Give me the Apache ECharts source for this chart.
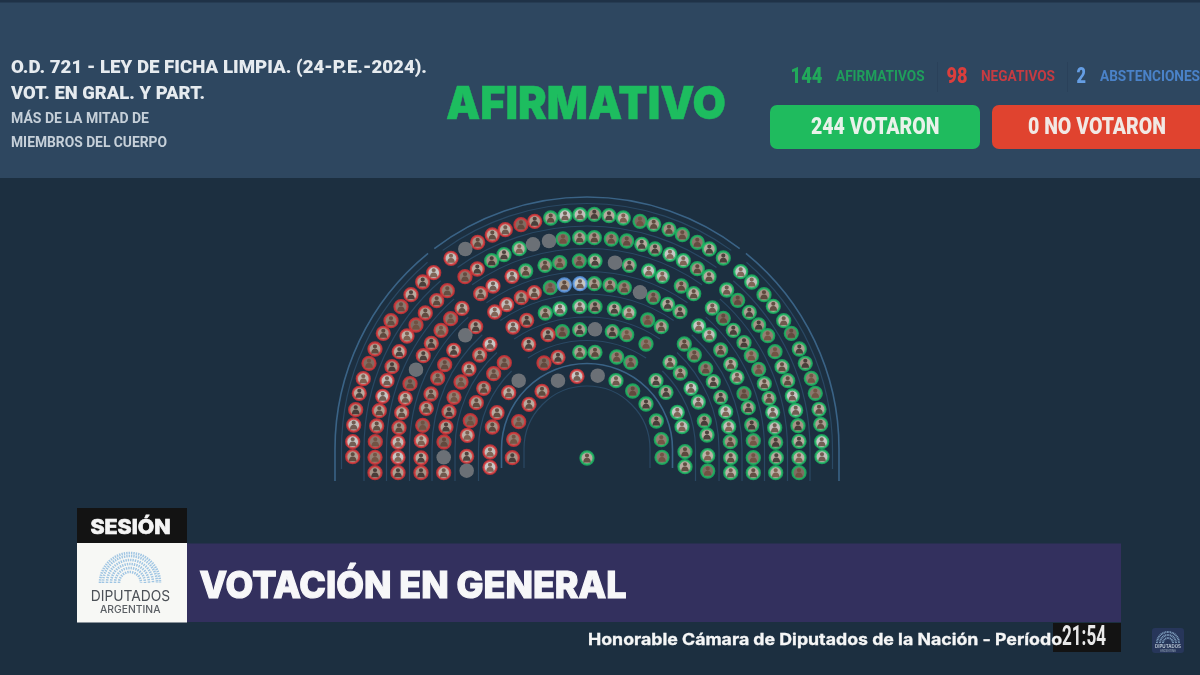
<!DOCTYPE html>
<html><head><meta charset="utf-8">
<style>html,body{margin:0;padding:0;background:#1c2f40}#c{width:1200px;height:675px;filter:blur(0.45px)}</style>
<script src="https://cdn.jsdelivr.net/npm/echarts@6/dist/echarts.min.js"></script>
</head><body><div id="c"></div>
<script>
// Seats in chamber units: origin at the centre of the hemicycle, x to the right, y upward.
const afirmativos = [
 [-36.3,231],[-22,233.3],[-7,234.3],[7.3,234.7],[22,233.3],[36.3,231],[53,227.7],[66.7,224.7],[82,219.7],[95.3,214.3],[110.3,206.7],[122.3,200],[136.3,191],[153.7,177.3],[164.7,167],[177,154.3],[186.3,142.7],[196.7,128.3],[204.3,115.7],[212.3,100],[218.3,85.7],[224.3,70.7],[228.3,55.7],[232,39.7],[233.7,24.7],[234.7,7.3],[235,-7.7],
 [-95.3,188.3],[-83,194.3],[-67.7,200.3],[-24,210],[-7.3,211.3],[7.3,211.3],[24.3,210],[39.7,208],[54.7,204.7],[68,200],[83,194.7],[96.3,188.3],[110.3,180.3],[122,172.3],[139.7,159],[150.7,148.7],[162.3,136.7],[171.7,124],[180.7,113.3],[188,97.3],[195,82.3],[200.7,68.3],[205.3,53],[208.7,38.7],[211,23.3],[212,7.7],[212,-8.7],[212,-23.7],
 [-61.3,178],[-42,183.7],[-27.3,186.3],[-7.7,188],[8,188],[42.3,183.7],[61.7,178],[75.3,172.7],[94.3,163],[106.7,155.3],[125.3,141],[136.3,130.7],[146.3,118.7],[157,106.3],[164.3,93.3],[171.7,79.7],[177.3,65.3],[182,50.7],[185.7,36.7],[187.7,21.3],[188.7,6.7],[189.3,-8.7],[188.7,-23.7],
 [-36.7,161.3],[7.3,165.3],[23,164],[37.3,161.3],[66.3,151.7],[80.7,144.7],[93,137.3],[111.7,123],[122.3,114],[133.7,99],[143.7,84.7],[150,71.7],[157,55.3],[161.3,41.3],[164.7,24],[166.3,8.3],[166.3,-8.7],[166.3,-23.7],
 [-41.7,136],[-27,140],[-7.3,142.3],[8,142.3],[27.3,140],[42,136.3],[60.7,129],[74.3,122.3],[97.3,105],[107.3,94],[118.7,80.3],[126.3,67.3],[133.7,51.7],[138.7,37.3],[141.7,22.3],[143.3,7.3],[143.7,-8.7],[143.7,-23.7],
 [-24.7,117.3],[-7.3,119.3],[25.3,117.3],[39.7,114.3],[59,105],[83,86.7],[93.3,76],[104,60.7],[111.3,47],[117.3,28],[120,14],[120.7,-6.7],[120.7,-22],
 [-7.3,96.7],[8,96.7],[29.7,92],[43.7,86.7],[69,68.3],[79,56.7],[90.3,36.7],[95,22.3],[98,-2.7],[98,-17.7],
 [29,68.3],[45.7,58],[59,45],[69.3,28],[74.3,9.3],[75,-8.3],
 [0,-9]
];
const negativos = [
 [-234.3,-7.7],[-234.3,7.3],[-233.3,24],[-231.3,39.3],[-227.7,55.7],[-223.7,70.3],[-218,85.7],[-212,100],[-203.7,115.7],[-196,128.3],[-186,142.3],[-176,154.3],[-164.3,167],[-153.3,176.3],[-136,190.7],[-109.3,206.7],[-94.7,214],[-81.7,219.3],[-66,224.3],[-52.3,227.7],
 [-212,-23.7],[-212,-8.3],[-211.7,7.3],[-210.3,23],[-207.7,38.3],[-204.3,52.7],[-200,68.3],[-195,82.3],[-187.7,97.3],[-180,113],[-171,124],[-161.7,136],[-150.3,148.3],[-139.7,158.3],[-122,172.3],[-109.7,180],
 [-189,-23.7],[-189,-8.3],[-189,6.7],[-188,21.3],[-185.3,36.3],[-181.7,50.7],[-177,65.3],[-163.7,93.3],[-155.7,105.7],[-146,118.7],[-136.3,130.3],[-125,140.7],[-106.3,155.3],[-94,163],[-75,172.7],
 [-166,-23.7],[-166,-9],[-165.7,8.3],[-164.3,23.7],[-160.7,40.7],[-156,55],[-149.3,71],[-142.3,84.3],[-133.3,98.7],[-111.3,122.3],[-92.3,137],[-80.3,144.3],[-65.7,151.3],[-52.7,156.3],
 [-143.3,-23.7],[-143,7],[-141,22],[-138,37.3],[-133,51.7],[-126,67],[-118,80],[-107.3,94],[-97,104.7],[-74,122],[-60.3,128.7],
 [-120.3,-7.3],[-119.7,13.7],[-116.7,28.3],[-110.7,46.3],[-103.3,60.7],[-93.3,75.3],[-82.7,86.3],[-58.3,104.7],[-39,114.3],
 [-97,-18.3],[-97,-3],[-94.7,22],[-90,36.3],[-78.3,56.3],[-43,86],[-29,91.7],
 [-74.7,-8.7],[-73.3,9.7],[-68.3,27.3],[-58,44.7],[-45,57.7],[-10,72.7]
];
const abstenciones = [[-22.7,164],[-7,165.3]];
const ausentes = [[-121.7,200],[-54,204.7],[-38,208],[-171,79.3],[28,186.3],[-121.7,113.7],[53,156.7],[-143.3,-8.3],[-120.3,-21.7],[8,119.7],[-68.3,68.3],[-29,68.3],[10.7,73.3]];

// Separators between the rows: [radius, from angle, to angle, strength]
const arcos = [
 [252,0,50.9,2],[252,52.7,127.3,2],[252,129.1,180,2],
 [245.5,0,49.5,1],[245.5,54,126,1],[245.5,130.5,180,1],
 [223,0,49,1],[223,54.5,125.5,1],[223,131,180,1],
 [200.5,0,48.5,1],[200.5,55,125,1],[200.5,131.5,180,1],
 [177.5,0,48,1],[177.5,55.5,124.5,1],[177.5,132,180,1],
 [155,0,47.5,1],[155,56,124,1],[155,132.5,180,1],
 [132,0,47,1],[132,56.5,123.5,1],[132,133,180,1],
 [108.5,0,46,1],[108.5,57,123,1],[108.5,134,180,1],
 [85.5,0,180,2],
 [63,0,180,1]
];
// Straight ends of the separators below the centre line: [radius, depth, strength]
const tramos = [[252,-32,2],[245.5,-20,1],[223,-32,1],[200.5,-32,1],[177.5,-32,1],[155,-32,1],[132,-32,1],[108.5,-32,1],[85.5,-19,2],[63,-19,1]];
const tonos = ['#d2bba8','#ece2d8','#b3947e','#e0cbb8','#9a7c6a','#f3eee6','#c8ad98','#a88a78','#e6d3c2'];
const colores = {verde:'#18bb62', rojo:'#dc3336', azul:'#5f9fee', gris:'#7f8183'};
const lineas = {1:'#2a4964', 2:'#3a6386'};

const persona = 'path://M12 1a5 5 0 1 1 0 10a5 5 0 0 1 0-10zM3 24c0-8 3-12 9-12s9 4 9 12z';
function asientos(name, data, color){
  return {type:'scatter', name, data, symbol:'circle', symbolSize:13, z:3, clip:false, silent:true,
    itemStyle:{color:p=>tonos[(p.dataIndex*5+(p.dataIndex>>2))%tonos.length], borderColor:color, borderWidth:2.3}};
}
function figuras(name, data){
  return {type:'scatter', name, data, symbol:persona, symbolSize:[7.5,9], z:4, clip:false, silent:true,
    itemStyle:{color:p=>['#4a3429','#6b4a3a','#2f2523','#5a4034'][(p.dataIndex*3+(p.dataIndex>>1))%4], opacity:0.78}};
}

function txt(text,x,cy,size,weight,color,width,family,grueso){
  const f=family||'Roboto';
  const ctx=document.createElement('canvas').getContext('2d');
  const font=weight+' '+size+'px "'+f+'"';
  ctx.font=font;
  const w=ctx.measureText(text).width;
  const style={text,x:0,y:0,font,fill:color,textAlign:'left',textVerticalAlign:'middle',textBaseline:'middle'};
  if(grueso){style.stroke=color;style.lineWidth=grueso;}
  return {type:'text',x,y:cy+1.5+size*0.04,scaleX:width?width/w:1,z:5,silent:true,style};
}
function caja(x,y,w,h,fill,r){return {type:'rect',shape:{x,y,width:w,height:h,r:r||0},style:{fill},z:1,silent:true};}
function cupula(cx,cy,radios,lw,color,dash){
  return radios.map(r=>({type:'arc',shape:{cx,cy,r,startAngle:Math.PI,endAngle:2*Math.PI,clockwise:true},
    style:{fill:null,stroke:color,lineWidth:lw,lineDash:dash},z:3,silent:true}));
}

const graficos = [
 caja(0,0,1200,178,'#2e4760'),
 caja(0,0,1200,2.5,'#1f3247'),
 caja(937,62,1,30,'#2a415a'),caja(1067,62,1,30,'#2a415a'),
 txt('O.D. 721 - LEY DE FICHA LIMPIA. (24-P.E.-2024).',11,66,17.5,900,'#e6ebef',416),
 txt('VOT. EN GRAL. Y PART.',11,92,17.5,900,'#e6ebef',194),
 txt('MÁS DE LA MITAD DE',11,117,14.5,700,'#c6d0d9',138),
 txt('MIEMBROS DEL CUERPO',11,141,14.5,700,'#c6d0d9',156),
 txt('AFIRMATIVO',446,102,46,900,'#1dbd5f',280,'Inter',0.5),
 txt('144',790.5,75,22,900,'#21a95a',32),
 txt('AFIRMATIVOS',836,75,15,700,'#1f9e5b',88.5),
 txt('98',946.5,75,22,900,'#dc3e3c',21),
 txt('NEGATIVOS',981,75,15,700,'#c53b42',74),
 txt('2',1076.5,75,22,900,'#659ee4',9.5),
 txt('ABSTENCIONES',1100,75,15,700,'#4a82c8',100),
 caja(770,105,210,44,'#1fbb5e',7),
 txt('244 VOTARON',811,126,23,900,'#e8f2ea',128.5),
 caja(992,105,220,44,'#e0432f',7),
 txt('0 NO VOTARON',1028,126,23,900,'#f1e8e4',138),
 caja(77,508,110,36,'#131313'),
 txt('SESIÓN',90.5,526,20,800,'#f4f4f4',80,'Inter',0.7),
 caja(77,543,110,79.5,'#f7f8f5'),
 ...cupula(130,583,[11,15,19,23,27,30],2.6,'#9fc5e3',[1.4,1]),
 txt('DIPUTADOS',90.7,594.5,15,400,'#4c5157',79.5,'Inter'),
 txt('ARGENTINA',100,608.5,10,500,'#5a5f64',60.5,'Inter'),
 caja(187,543.5,934,78.5,'#33305e'),
 txt('VOTACIÓN EN GENERAL',199.5,584,37,800,'#f7f7f9',427,'Inter',1.2),
 txt('Honorable Cámara de Diputados de la Nación - Período',588,638,15.5,700,'#f5f6f6',474,'Inter',0.3),
 caja(1053,623,68,29,'#131313'),
 txt('21:54',1062,636,27,700,'#e9e9e9',44,'Roboto'),
 caja(1152,628,32,25,'#27365a',3),
 ...cupula(1168,643,[5,8,11],2,'#7f9fbe',[1,0.6]),
 txt('DIPUTADOS',1155,645,5,600,'#c4d0dc',26,'Inter'),
 txt('ARGENTINA',1160,649,3,500,'#95a5b6',16,'Inter')
];

const chart = echarts.init(document.getElementById('c'),null,{renderer:'canvas'});
chart.setOption({
  animation:false,
  backgroundColor:'#1c2f40',
  grid:{left:0,right:0,top:0,bottom:0},
  xAxis:{type:'value',min:-587,max:613,show:false},
  yAxis:{type:'value',min:-226,max:449,show:false},
  graphic:{elements:graficos},
  series:[
    {type:'custom',name:'separadores',data:arcos,coordinateSystem:'cartesian2d',encode:{x:0,y:3},z:2,silent:true,clip:false,
     renderItem:(p,api)=>{
       const c=api.coord([0,0]), r=api.size([api.value(0),0])[0];
       return {type:'arc',shape:{cx:c[0],cy:c[1],r,startAngle:-api.value(2)*Math.PI/180,endAngle:-api.value(1)*Math.PI/180,clockwise:true},
         style:{fill:null,stroke:lineas[api.value(3)],lineWidth:api.value(3)==2?1.6:1.2}};
     }},
    {type:'custom',name:'tramos',data:tramos,coordinateSystem:'cartesian2d',encode:{x:0,y:1},z:2,silent:true,clip:false,
     renderItem:(p,api)=>{
       const r=api.value(0), d=api.value(1);
       const mk=s=>{const a=api.coord([s*r,0]),b=api.coord([s*r,d]);
         return {type:'line',shape:{x1:a[0],y1:a[1],x2:b[0],y2:b[1]},style:{stroke:lineas[api.value(2)],lineWidth:api.value(2)==2?1.6:1.2}};};
       return {type:'group',children:[mk(-1),mk(1)]};
     }},
    asientos('Afirmativos',afirmativos,colores.verde),
    asientos('Negativos',negativos,colores.rojo),
    asientos('Abstenciones',abstenciones,colores.azul),
    {type:'scatter',name:'Sin voto',data:ausentes,symbol:'circle',symbolSize:14.5,z:3,clip:false,silent:true,itemStyle:{color:colores.gris}},
    figuras('fA',afirmativos),figuras('fN',negativos),figuras('fB',abstenciones)
  ]
});
</script></body></html>
